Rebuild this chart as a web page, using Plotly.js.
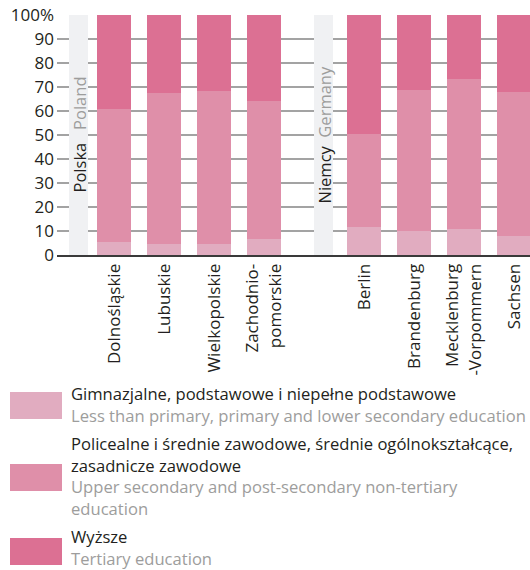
<!DOCTYPE html>
<html><head><meta charset="utf-8">
<script src="https://cdn.plot.ly/plotly-3.0.1.min.js"></script>
<style>html,body{margin:0;padding:0;background:#fff}</style>
</head><body><div id="chart" style="width:530px;height:570px"></div>
<script>
// ---- data ----
const slots = ["PL", "Dolnośląskie", "Lubuskie", "Wielkopolskie", "Zachodniopomorskie",
               "DE", "Berlin", "Brandenburg", "Mecklenburg-Vorpommern", "Sachsen"];
const regions = ["Dolnośląskie", "Lubuskie", "Wielkopolskie", "Zachodniopomorskie",
                 "Berlin", "Brandenburg", "Mecklenburg-Vorpommern", "Sachsen"];
const regionLabels = ["Dolnośląskie", "Lubuskie", "Wielkopolskie", "Zachodnio-<br>pomorskie",
                      "Berlin", "Brandenburg", "Mecklenburg<br>-Vorpommern", "Sachsen"];
const lowerEdu = [5.4, 4.6, 4.6, 6.7, 11.7, 10.0, 10.8, 7.9];
const upperSecEdu = [55.4, 62.9, 63.7, 57.5, 38.7, 58.8, 62.5, 60.0];
const tertiaryEdu = [39.2, 32.5, 31.7, 35.8, 49.6, 31.2, 26.7, 32.1];
const countries = ["PL", "DE"];
const countryPL = ["Polska", "Niemcy"];
const countryEN = ["Poland", "Germany"];
const bandValue = [100, 100];
const seriesPL = ["Gimnazjalne, podstawowe i niepełne podstawowe",
                  "Policealne i średnie zawodowe, średnie ogólnokształcące,<br>zasadnicze zawodowe",
                  "Wyższe"];
const seriesEN = ["Less than primary, primary and lower secondary education",
                  "Upper secondary and post-secondary non-tertiary<br>education",
                  "Tertiary education"];
const yTickVals = [0, 10, 20, 30, 40, 50, 60, 70, 80, 90, 100];
const yTickText = ["0", "10", "20", "30", "40", "50", "60", "70", "80", "90", "100%"];

// ---- styles ----
const colors = ["#e1acc0", "#df8fa9", "#dc7093"];
const bandColor = "#f0f1f3";
const dark = "#231f20";
const grey = "#9d9d9c";
const FONT = "Open Sans, Noto Sans, sans-serif";

const W = 530, H = 570;
const M = {l: 57, r: 0, t: 15, b: 315};
const pw = W - M.l - M.r, ph = H - M.t - M.b;
const px2x = p => (p - M.l) / pw;
const px2y = p => (H - M.b - p) / ph;
const greySpan = s => s.split("<br>").map(p => `<span style="color:${grey}">${p}</span>`).join("<br>");

const values = [lowerEdu, upperSecEdu, tertiaryEdu];
const traces = [{
  type: "bar", x: countries, y: bandValue, width: 0.38, offset: [0.10, 0.0],
  marker: {color: bandColor}, hoverinfo: "skip", showlegend: false
}];
values.forEach((v, i) => traces.push({
  type: "bar", x: regions, y: v, name: seriesPL[i], width: 0.68,
  marker: {color: colors[i], line: {width: 0}}, showlegend: false, hoverinfo: "y"
}));

const annotations = [];
countries.forEach((c, i) => {
  const gap = i === 0 ? "\u00a0\u00a0\u00a0" : "\u00a0\u00a0";
  annotations.push({
    xref: "x", yref: "y", x: slots.indexOf(c) + (i === 0 ? 0.29 : 0.19), y: 50,
    text: `${countryPL[i]}${gap}<span style="color:${grey}">${countryEN[i]}</span>`,
    textangle: -90, showarrow: false, xanchor: "center", yanchor: "middle",
    font: {family: FONT, size: 16.5, color: dark}
  });
});

const swatchPx = [[392, 419], [464, 491], [538, 565]];
const textShift = [-1.5, -1.5, -4];
const shapes = [];
swatchPx.forEach((s, i) => {
  shapes.push({type: "rect", xref: "paper", yref: "paper",
    x0: px2x(10), x1: px2x(62), y0: px2y(s[0]), y1: px2y(s[1]),
    fillcolor: colors[i], line: {width: 0}});
  annotations.push({
    xref: "paper", yref: "paper", x: px2x(69), y: px2y((s[0] + s[1]) / 2 + textShift[i]),
    xanchor: "left", yanchor: "middle", align: "left", showarrow: false,
    text: `${seriesPL[i]}<br>${greySpan(seriesEN[i])}`,
    font: {family: FONT, size: 16.6, color: dark}
  });
});

const layout = {
  width: W, height: H, margin: M,
  paper_bgcolor: "#fff", plot_bgcolor: "#fff",
  barmode: "stack", showlegend: false,
  font: {family: FONT, size: 17, color: dark},
  xaxis: {
    type: "category", categoryorder: "array", categoryarray: slots,
    range: [-0.14, 9.32], tickmode: "array", tickvals: regions, ticktext: regionLabels,
    tickangle: -90, tickfont: {family: FONT, size: 17, color: dark},
    showgrid: false, showline: true, linecolor: "#3a3a3a", linewidth: 2,
    ticks: "", zeroline: false, fixedrange: true
  },
  yaxis: {
    range: [0, 100], tickmode: "array", tickvals: yTickVals, ticktext: yTickText,
    tickfont: {family: FONT, size: 17, color: dark}, ticklabelstandoff: 2,
    showgrid: true, gridcolor: "#a3a3a3", gridwidth: 1.3,
    zeroline: false, showline: false, ticks: "", fixedrange: true
  },
  shapes: shapes,
  annotations: annotations
};

Plotly.newPlot("chart", traces, layout, {displayModeBar: false, staticPlot: true});
</script>
</body></html>
